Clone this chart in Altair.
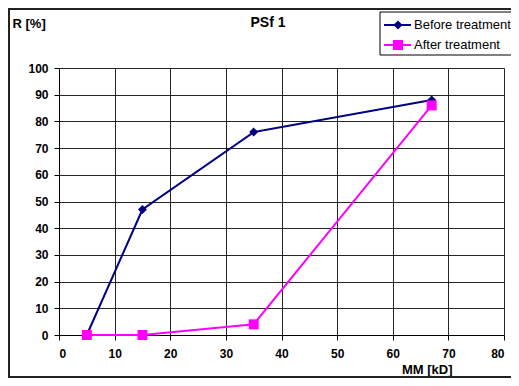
import altair as alt
import pandas as pd

# Data
mm_kd = [5, 15, 35, 67]
before_treatment = [0, 47, 76, 88]
after_treatment = [0, 0, 4, 86]
series_names = ["Before treatment", "After treatment"]
series_colors = ["#000080", "#FF00FF"]
series_shapes = ["diamond", "square"]
x_ticks = [0, 10, 20, 30, 40, 50, 60, 70, 80]
y_ticks = [0, 10, 20, 30, 40, 50, 60, 70, 80, 90, 100]

rows = []
for x, b in zip(mm_kd, before_treatment):
    rows.append({"MM": x, "R": b, "series": series_names[0]})
for x, a in zip(mm_kd, after_treatment):
    rows.append({"MM": x, "R": a, "series": series_names[1]})
df = pd.DataFrame(rows)

W, H = 445, 267
FONT = "Liberation Sans"
PAD_BOTTOM = 43

xscale = alt.Scale(domain=[0, 80], nice=False, zero=False)
yscale = alt.Scale(domain=[0, 100], nice=False)

x_enc = alt.X("MM:Q", scale=xscale,
              axis=alt.Axis(values=x_ticks, title="MM [kD]", titleX=393, titleY=38,
                            titleAlign="right", titleBaseline="alphabetic",
                            tickSize=5, labelPadding=8))
y_enc = alt.Y("R:Q", scale=yscale,
              axis=alt.Axis(values=y_ticks, title="R [%]", titleAngle=0, titleX=-47,
                            titleY=-41, titleAlign="left", titleBaseline="alphabetic",
                            tickSize=5, labelPadding=6))

single = pd.DataFrame({"k": [0]})

outer = alt.Chart(single).mark_rect(fillOpacity=0, stroke="#222", strokeWidth=2).encode(
    x=alt.value(-50), x2=alt.value(470), y=alt.value(-59), y2=alt.value(H + PAD_BOTTOM - 1))

layers = [outer]
for i, name in enumerate(series_names):
    d = df[df.series == name]
    base = alt.Chart(d).encode(x=x_enc, y=y_enc)
    line = base.mark_line(color=series_colors[i], strokeWidth=2)
    pts = base.mark_point(shape=series_shapes[i], filled=True, opacity=1,
                          color=series_colors[i], size=81 if i == 0 else 100)
    layers += [line, pts]

title = alt.Chart(single).mark_text(text="PSf 1", font=FONT, fontSize=14, fontWeight="bold",
                                    align="center", baseline="alphabetic", color="black").encode(
    x=alt.value(209), y=alt.value(-41))
layers.append(title)

legend_box = alt.Chart(single).mark_rect(fill="white", stroke="black", strokeWidth=1).encode(
    x=alt.value(321), x2=alt.value(480), y=alt.value(-56), y2=alt.value(-13))
layers.append(legend_box)
for i, name in enumerate(series_names):
    yy = -43 + 20 * i
    layers.append(alt.Chart(single).mark_rule(color=series_colors[i], strokeWidth=2).encode(
        x=alt.value(325), x2=alt.value(352), y=alt.value(yy)))
    layers.append(alt.Chart(single).mark_point(shape=series_shapes[i], filled=True, opacity=1,
                                               color=series_colors[i],
                                               size=81 if i == 0 else 100).encode(
        x=alt.value(339), y=alt.value(yy)))
    layers.append(alt.Chart(single).mark_text(text=name, font=FONT, fontSize=13, align="left",
                                              baseline="middle", color="black").encode(
        x=alt.value(355), y=alt.value(yy)))

chart = alt.layer(*layers).properties(
    width=W, height=H,
    autosize=alt.AutoSizeParams(type="none"),
    padding={"left": 51, "top": 60, "right": 7, "bottom": PAD_BOTTOM},
).configure_view(stroke=None).configure_axis(
    domainColor="black", tickColor="black", gridColor="black", gridOpacity=0.85,
    labelFont=FONT, labelFontSize=12, labelFontWeight="bold", labelColor="black",
    titleFont=FONT, titleFontSize=13, titleFontWeight="bold", titleColor="black",
    grid=True,
)

chart.save("out.html", embed_options={"renderer": "svg", "actions": False})
